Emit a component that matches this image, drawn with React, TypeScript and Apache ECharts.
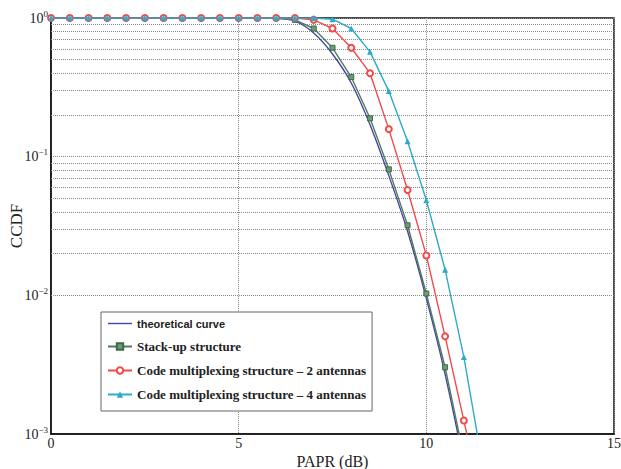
import React, { useEffect, useRef } from "react";
import * as echarts from "echarts";

const papr = [0, 0.5, 1, 1.5, 2, 2.5, 3, 3.5, 4, 4.5, 5, 5.5, 6, 6.5, 7, 7.5, 8, 8.5, 9, 9.5, 10, 10.5, 11, 11.5];
const theoretical = [1, 1, 1, 1, 1, 1, 1, 1, 1, 1, 1, 1, 0.995, 0.95, 0.78, 0.55, 0.34, 0.17, 0.073, 0.029, 0.0095, 0.0027, 0.0006, 0.0001];
const stackUp = [1, 1, 1, 1, 1, 1, 1, 1, 1, 1, 1, 1, 1, 0.97, 0.84, 0.61, 0.375, 0.189, 0.081, 0.032, 0.0103, 0.00303, 0.00069, 0.0001];
const codeMux2 = [1, 1, 1, 1, 1, 1, 1, 1, 1, 1, 1, 1, 1, 1, 0.97, 0.84, 0.61, 0.4, 0.158, 0.0575, 0.0194, 0.00506, 0.00125, 0.00031];
const codeMux4 = [1, 1, 1, 1, 1, 1, 1, 1, 1, 1, 1, 1, 1, 1, 1, 0.98, 0.84, 0.57, 0.297, 0.129, 0.0485, 0.0153, 0.00359, 0.0006];
const seriesNames = [
  "theoretical curve",
  "Stack-up structure",
  "Code multiplexing structure – 2 antennas",
  "Code multiplexing structure – 4 antennas",
];
const xTicks = [0, 5, 10, 15];
const minorGridValues = [2, 3, 4, 5, 6, 7, 8, 9].flatMap((m) => [m * 0.001, m * 0.01, m * 0.1]);

const pairs = (ys: number[]) => papr.map((x, i) => [x, ys[i]]);

export default function App() {
  const ref = useRef<HTMLDivElement>(null);
  useEffect(() => {
    if (!ref.current) return;
    const chart = echarts.init(ref.current, null, { renderer: "svg" });
    const serif = "Liberation Serif";
    chart.setOption({
      animation: false,
      backgroundColor: "#fff",
      grid: {
        left: 51,
        right: 7,
        top: 18,
        bottom: 35,
        containLabel: false,
        outerBoundsMode: "none",
        show: true,
        borderColor: "#111",
        borderWidth: 1.5,
        backgroundColor: "transparent",
      },
      xAxis: {
        type: "value",
        min: 0,
        max: 15,
        interval: 5,
        name: "PAPR (dB)",
        nameLocation: "middle",
        nameGap: 19,
        nameMoveOverlap: false,
        nameTextStyle: { fontFamily: serif, fontSize: 16, color: "#222" },
        axisLine: { show: true, lineStyle: { color: "#111", width: 1.5 } },
        axisTick: { show: false },
        axisLabel: {
          fontFamily: serif,
          fontSize: 14,
          color: "#222",
          margin: 2,
          formatter: (v: number) => (xTicks.includes(v) ? String(v) : ""),
        },
        splitLine: { show: true, lineStyle: { color: "#888", type: "dotted", width: 1 } },
      },
      yAxis: {
        type: "log",
        logBase: 10,
        min: 0.001,
        max: 1,
        name: "CCDF",
        nameLocation: "middle",
        nameGap: 26,
        nameMoveOverlap: false,
        nameTextStyle: { fontFamily: serif, fontSize: 17, color: "#222" },
        axisLine: { show: true, lineStyle: { color: "#111", width: 1.5 } },
        axisTick: { show: false },
        axisLabel: {
          margin: 3,
          formatter: (v: number) => {
            const e = Math.round(Math.log10(v));
            return `{b|10}{s|${e === 0 ? "0" : "−" + Math.abs(e)}}`;
          },
          rich: {
            b: { fontFamily: serif, fontSize: 14, color: "#222" },
            s: { fontFamily: serif, fontSize: 9, color: "#222", verticalAlign: "top", padding: [0, 0, 9, 0] },
          },
        },
        splitLine: { show: true, lineStyle: { color: "#888", type: "dotted", width: 1 } },
      },
      legend: {
        orient: "vertical",
        left: 101,
        top: 312,
        width: 267,
        backgroundColor: "#fff",
        borderColor: "#666",
        borderWidth: 1,
        padding: [6, 6, 10, 6],
        itemGap: 11,
        itemWidth: 24,
        itemHeight: 8,
        textStyle: { fontFamily: serif, fontSize: 13, color: "#222", fontWeight: "bold" },
        data: [
          {
            name: seriesNames[0],
            icon: "path://M0,0 L24,0 L24,1.4 L0,1.4 Z",
            textStyle: { fontFamily: "Liberation Sans", fontSize: 11, fontWeight: "bold", color: "#222" },
          },
          { name: seriesNames[1] },
          { name: seriesNames[2] },
          { name: seriesNames[3] },
        ],
      },
      series: [
        {
          name: seriesNames[0],
          type: "line",
          data: pairs(theoretical),
          showSymbol: false,
          symbol: "none",
          smooth: 0.3,
          clip: true,
          lineStyle: { color: "#4646a6", width: 1.4 },
          itemStyle: { color: "#4646a6" },
          z: 5,
          markLine: {
            silent: true,
            symbol: "none",
            label: { show: false },
            lineStyle: { color: "#888", type: "dotted", width: 1 },
            data: minorGridValues.map((v) => ({ yAxis: v })),
            z: 1,
          },
        },
        {
          name: seriesNames[1],
          type: "line",
          data: pairs(stackUp),
          symbol: "rect",
          symbolSize: 5,
          clip: true,
          lineStyle: { color: "#4e7d5c", width: 1.4 },
          itemStyle: { color: "#6f9a78", borderColor: "#3e6a4a", borderWidth: 1 },
          z: 6,
        },
        {
          name: seriesNames[2],
          type: "line",
          data: pairs(codeMux2),
          symbol: "emptyCircle",
          symbolSize: 6,
          clip: true,
          lineStyle: { color: "#f24a4a", width: 1.4 },
          itemStyle: { color: "#f24a4a", borderWidth: 1.1 },
          z: 7,
        },
        {
          name: seriesNames[3],
          type: "line",
          data: pairs(codeMux4),
          symbol: "triangle",
          symbolSize: 6,
          clip: true,
          lineStyle: { color: "#2ea9c9", width: 1.4 },
          itemStyle: { color: "#2ea9c9" },
          z: 8,
        },
      ],
    });
    return () => chart.dispose();
  }, []);
  return <div ref={ref} style={{ position: "fixed", left: 0, top: 0, width: 621, height: 469 }} />;
}
